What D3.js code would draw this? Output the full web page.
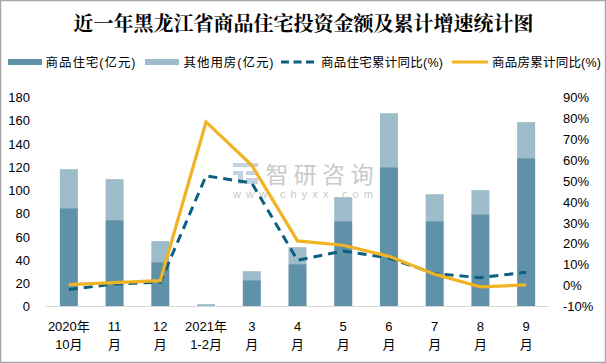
<!DOCTYPE html>
<html>
<head>
<meta charset="utf-8">
<script src="https://cdn.jsdelivr.net/npm/d3@7"></script>
<style>
  html, body { margin: 0; padding: 0; background: #fff; }
  svg { display: block; }
  text { font-family: "Liberation Sans", "Noto Sans CJK SC", sans-serif; fill: #000; }
</style>
</head>
<body>
<div id="chart"></div>
<script>
// values
const months = [['2020年', '10月'], ['11', '月'], ['12', '月'], ['2021年', '1-2月'], ['3', '月'], ['4', '月'], ['5', '月'], ['6', '月'], ['7', '月'], ['8', '月'], ['9', '月']];
const residential = [84.7, 74.4, 38.2, 1, 22.7, 36.5, 73.5, 120, 73.5, 79.5, 127.8];
const otherUse = [33.6, 35.3, 18.1, 1, 7.7, 14.6, 20.7, 46.5, 23.2, 20.7, 31];
const residentialPct = [-1.9, 0.8, 1.6, 52.5, 49.1, 12.1, 16.6, 13.2, 5.7, 3.8, 6.4];
const totalPct = [0.5, 1.4, 2.4, 78.3, 57.6, 21.4, 19.3, 14, 5.4, -0.6, 0.3];
const leftTicks = [0, 20, 40, 60, 80, 100, 120, 140, 160, 180];
const rightTicks = [-10, 0, 10, 20, 30, 40, 50, 60, 70, 80, 90];

const width = 606, height = 363;
const colours = { res: '#5f91a8', other: '#9fbcca', resLine: '#0b5f80', totalLine: '#f0b323' };

const svg = d3.select('#chart').append('svg')
    .attr('width', width)
    .attr('height', height);

svg.append('rect')
    .attr('x', 0.5).attr('y', 0.5)
    .attr('width', width - 1).attr('height', height - 1)
    .attr('fill', '#fff')
    .attr('stroke', '#a6a6a6')
    .attr('stroke-width', 1.5);

const x = d3.scaleBand()
    .domain(d3.range(months.length))
    .range([46, 549])
    .paddingInner(0.606)
    .paddingOuter(0.303);
const yLeft = d3.scaleLinear().domain([0, 180]).range([306.5, 97.5]);
const yRight = d3.scaleLinear().domain([-10, 90]).range([306.5, 97.5]);
const cx = i => x(i) + x.bandwidth() / 2;

// title
svg.append('text')
    .attr('x', 303.5).attr('y', 31)
    .attr('text-anchor', 'middle')
    .style('font-family', '"Noto Serif CJK SC", "Noto Sans CJK SC", serif')
    .style('font-size', '20px')
    .style('font-weight', 700)
    .text('近一年黑龙江省商品住宅投资金额及累计增速统计图');

// stacked bars
const barGroup = svg.append('g');
barGroup.selectAll('rect.res')
    .data(residential)
    .join('rect')
    .classed('res', true)
    .attr('x', (d, i) => x(i))
    .attr('width', x.bandwidth())
    .attr('y', d => yLeft(d))
    .attr('height', d => yLeft(0) - yLeft(d))
    .attr('fill', colours.res);
barGroup.selectAll('rect.other')
    .data(otherUse)
    .join('rect')
    .classed('other', true)
    .attr('x', (d, i) => x(i))
    .attr('width', x.bandwidth())
    .attr('y', (d, i) => yLeft(residential[i] + d))
    .attr('height', d => yLeft(0) - yLeft(d))
    .attr('fill', colours.other);

// watermark
const mark = svg.append('g');
mark.append('path')
    .attr('d', 'M233 163h25v4h-25zM233 171h10v13h-5v-9h-5zM246 171h12v4h-12zM246 178h12v6h-12z')
    .attr('fill', '#c5d0e0');
mark.append('text')
    .attr('x', 265.5).attr('y', 183)
    .style('font-size', '23px')
    .style('letter-spacing', '5.3px')
    .style('fill', '#cacaca')
    .text('智研咨询');
mark.append('text')
    .attr('x', 233).attr('y', 198)
    .attr('textLength', 140)
    .attr('lengthAdjust', 'spacing')
    .style('font-size', '11px')
    .style('fill', '#cacaca')
    .text('www.chyxx.com');

// lines
const lineFor = d3.line()
    .x((d, i) => cx(i))
    .y(d => yRight(d))
    .curve(d3.curveLinear);
svg.append('path')
    .attr('d', lineFor(residentialPct))
    .attr('fill', 'none')
    .attr('stroke', colours.resLine)
    .attr('stroke-width', 3)
    .attr('stroke-dasharray', '9 6');
svg.append('path')
    .attr('d', lineFor(totalPct))
    .attr('fill', 'none')
    .attr('stroke', colours.totalLine)
    .attr('stroke-width', 3.2);

// axes
const leftAxis = svg.append('g')
    .attr('transform', 'translate(30,0)')
    .call(d3.axisLeft(yLeft).tickValues(leftTicks).tickSize(0).tickPadding(0));
const rightAxis = svg.append('g')
    .attr('transform', 'translate(563,0)')
    .call(d3.axisRight(yRight).tickValues(rightTicks).tickSize(0).tickPadding(0).tickFormat(d => d + '%'));
leftAxis.select('.domain').remove();
rightAxis.select('.domain').remove();
leftAxis.selectAll('text').style('font-size', '13px');
rightAxis.selectAll('text').style('font-size', '13px');

svg.append('line')
    .attr('x1', 46).attr('x2', 549)
    .attr('y1', yLeft(0)).attr('y2', yLeft(0))
    .attr('stroke', '#d9d9d9')
    .attr('stroke-width', 1);

// two-line month labels
const monthLabels = svg.append('g').selectAll('text')
    .data(months)
    .join('text')
    .attr('text-anchor', 'middle')
    .style('font-size', '13px');
monthLabels.append('tspan')
    .attr('x', (d, i) => cx(i))
    .attr('y', 331)
    .text(d => d[0]);
monthLabels.append('tspan')
    .attr('x', (d, i) => cx(i))
    .attr('y', 349)
    .text(d => d[1]);

// legend
const legendItems = [
    { label: '商品住宅(亿元)', type: 'bar', colour: colours.res, x: 8, w: 34, tx: 45.5, tw: 90 },
    { label: '其他用房(亿元)', type: 'bar', colour: colours.other, x: 145, w: 34, tx: 183.5, tw: 90 },
    { label: '商品住宅累计同比(%)', type: 'dash', colour: colours.resLine, x: 281, w: 33, tx: 321, tw: 122 },
    { label: '商品房累计同比(%)', type: 'line', colour: colours.totalLine, x: 452, w: 36, tx: 492, tw: 109 }
];
const legend = svg.append('g').selectAll('g')
    .data(legendItems)
    .join('g');
legend.filter(d => d.type === 'bar').append('rect')
    .attr('x', d => d.x).attr('y', 59)
    .attr('width', d => d.w).attr('height', 6)
    .attr('fill', d => d.colour);
legend.filter(d => d.type !== 'bar').append('line')
    .attr('x1', d => d.x).attr('x2', d => d.x + d.w)
    .attr('y1', 62).attr('y2', 62)
    .attr('stroke', d => d.colour)
    .attr('stroke-width', 3)
    .attr('stroke-dasharray', d => d.type === 'dash' ? '8 4.5' : null);
legend.append('text')
    .attr('x', d => d.tx).attr('y', 67)
    .attr('textLength', d => d.tw)
    .attr('lengthAdjust', 'spacing')
    .style('font-size', '12.5px')
    .text(d => d.label);
</script>
</body>
</html>
